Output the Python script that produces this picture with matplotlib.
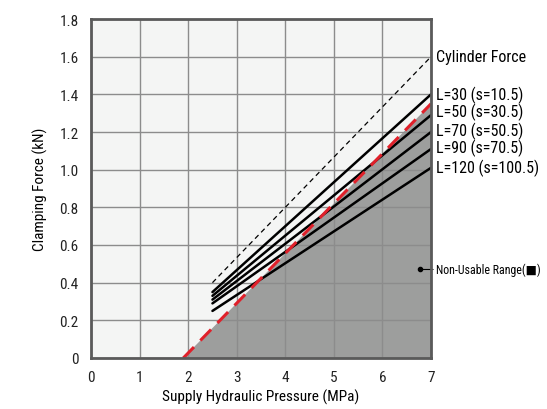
import numpy as np
import matplotlib
matplotlib.use('Agg')
import matplotlib.pyplot as plt
from matplotlib import font_manager

# data
pressure = [2.5, 7.0]
cylinder_force = [0.40, 1.60]
line_labels = ['L=30 (s=10.5)', 'L=50 (s=30.5)', 'L=70 (s=50.5)', 'L=90 (s=70.5)', 'L=120 (s=100.5)']
force_start = [0.35, 0.33, 0.31, 0.29, 0.25]
force_end = [1.40, 1.29, 1.20, 1.11, 1.01]
limit_pressure = [1.9, 7.0]
limit_force = [0.0, 1.35]

# pick a narrow face if one is installed
names = {f.name for f in font_manager.fontManager.ttflist}
narrow = None
for cand in ['Liberation Sans Narrow', 'DejaVu Sans Condensed', 'Roboto Condensed',
             'Open Sans Condensed', 'Noto Sans Condensed']:
    if cand in names:
        narrow = cand
        break
if narrow:
    plt.rcParams['font.family'] = [narrow, 'DejaVu Sans']
    fs = 10.5
    side_fs = 11.5
else:
    plt.rcParams['font.family'] = ['Roboto', 'DejaVu Sans']
    fs = 9.5
    side_fs = 8.6

fig = plt.figure(figsize=(5.47, 4.10), dpi=100)
ax = fig.add_axes([0.1664, 0.1244, 0.6216, 0.8268])
ax.set_facecolor('#f4f5f4')

# non-usable range under the limit line
ax.fill_between(limit_pressure, limit_force, 0, color='#9d9e9d', zorder=1)

ax.set_xlim(0, 7)
ax.set_ylim(0, 1.8)
ax.set_xticks(range(8))
ax.set_yticks(np.arange(0, 1.81, 0.2))
ax.set_yticklabels(['0', '0.2', '0.4', '0.6', '0.8', '1.0', '1.2', '1.4', '1.6', '1.8'])
ax.grid(True, color='#8c8c8c', linewidth=1.0, zorder=2)
ax.set_axisbelow(False)
ax.tick_params(length=0, labelsize=fs + 0.5, labelcolor='#222222')
ax.tick_params(axis='y', pad=9)
ax.tick_params(axis='x', pad=9)
for s in ax.spines.values():
    s.set_color('#5a5a5a')
    s.set_linewidth(2)
    s.set_zorder(6)

ax.plot(pressure, cylinder_force, color='black', linestyle=(0, (4, 3)), linewidth=0.9, zorder=4)
for a, b in zip(force_start, force_end):
    ax.plot(pressure, [a, b], color='black', linewidth=1.8, zorder=4, solid_capstyle='round')
ax.plot(limit_pressure, limit_force, color='#e0202a', linestyle=(0, (5, 3)), linewidth=2.2, zorder=5)

ax.text(7.1, 1.60, 'Cylinder Force', fontsize=side_fs, va='center', clip_on=False)
label_y = [1.40, 1.31, 1.21, 1.12, 1.01]
for lab, y in zip(line_labels, label_y):
    ax.text(7.1, y, lab, fontsize=side_fs, va='center', clip_on=False)

ax.plot([6.77], [0.47], 'o', color='black', markersize=3, zorder=6)
ax.annotate('Non-Usable Range(■)', xy=(6.77, 0.47), xytext=(7.1, 0.47),
            fontsize=8.6 if narrow else 7.5, va='center', annotation_clip=False,
            arrowprops=dict(arrowstyle='-', color='black', linewidth=0.8, shrinkA=0, shrinkB=0))

ax.set_xlabel('Supply Hydraulic Pressure (MPa)', fontsize=fs + 0.5, labelpad=3)
ax.set_ylabel('Clamping Force (kN)', fontsize=fs + 0.5, labelpad=8)

fig.savefig('out.png', dpi=100)
